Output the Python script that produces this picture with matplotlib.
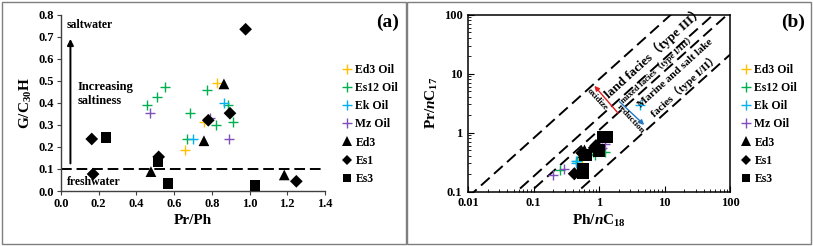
import numpy as np
import matplotlib
matplotlib.use("Agg")
import matplotlib.pyplot as plt
from matplotlib.patches import Rectangle
from matplotlib.lines import Line2D
from matplotlib.ticker import FixedLocator, FixedFormatter, LogLocator, NullFormatter

plt.rcParams['font.family'] = ['Liberation Serif', 'Noto Sans CJK SC']
plt.rcParams['font.weight'] = 'bold'
plt.rcParams['axes.labelweight'] = 'bold'
plt.rcParams['mathtext.fontset'] = 'custom'
plt.rcParams['mathtext.rm'] = 'Liberation Serif:bold'
plt.rcParams['mathtext.it'] = 'Liberation Serif:italic:bold'
plt.rcParams['mathtext.bf'] = 'Liberation Serif:bold'

# ---------------- data: panel (a) Pr/Ph vs G/C30H ----------------
ed3_oil_a_x = [0.76, 0.825, 0.66]
ed3_oil_a_y = [0.315, 0.488, 0.188]
es12_oil_a_x = [0.454, 0.511, 0.551, 0.774, 0.684, 0.670, 0.824, 0.887, 0.912]
es12_oil_a_y = [0.390, 0.428, 0.471, 0.458, 0.353, 0.236, 0.301, 0.388, 0.315]
ek_oil_a_x = [0.702, 0.865]
ek_oil_a_y = [0.238, 0.398]
mz_oil_a_x = [0.472, 0.788, 0.890]
mz_oil_a_y = [0.355, 0.330, 0.236]
ed3_a_x = [0.864, 0.758, 0.477, 1.184]
ed3_a_y = [0.486, 0.228, 0.088, 0.073]
es1_a_x = [0.979, 0.163, 0.170, 0.781, 0.896, 1.248, 0.518]
es1_a_y = [0.734, 0.236, 0.077, 0.321, 0.353, 0.044, 0.155]
es3_a_x = [0.239, 0.516, 0.569, 1.029]
es3_a_y = [0.243, 0.132, 0.034, 0.025]
freshwater_limit = 0.1

# ---------------- data: panel (b) Ph/nC18 vs Pr/nC17 ----------------
ed3_oil_b_x = [0.55, 0.62, 0.90]
ed3_oil_b_y = [0.36, 0.42, 0.50]
es12_oil_b_x = [0.25, 0.46, 0.70, 0.88, 1.25, 0.60, 0.80]
es12_oil_b_y = [0.23, 0.33, 0.43, 0.42, 0.46, 0.45, 0.47]
ek_oil_b_x = [0.44, 0.45, 4.3]
ek_oil_b_y = [0.31, 0.33, 2.9]
mz_oil_b_x = [0.20, 0.29, 1.22, 1.10]
mz_oil_b_y = [0.19, 0.24, 0.64, 0.55]
ed3_b_x = [0.58, 0.60, 1.10]
ed3_b_y = [0.46, 0.50, 0.85]
es1_b_x = [0.42, 0.85, 0.90, 1.00, 0.55]
es1_b_y = [0.20, 0.55, 0.60, 0.52, 0.45]
es3_b_x = [0.57, 0.57, 0.62, 1.00, 1.15, 1.30]
es3_b_y = [0.21, 0.24, 0.42, 0.50, 0.85, 0.85]
facies_boundaries_k = [8.0, 1.8, 1.1, 0.21]   # Pr/nC17 = k * Ph/nC18

labels = ['Ed3 Oil', 'Es12 Oil', 'Ek Oil', 'Mz Oil', 'Ed3', 'Es1', 'Es3']
c_orange = '#FFC000'
c_green = '#00B050'
c_blue = '#00B0F0'
c_purple = '#8050B8'

W, H = 813, 246
fig = plt.figure(figsize=(W / 100, H / 100), dpi=100)

# panel frames
for x0, x1 in [(2, 406), (407, 811)]:
    fig.add_artist(Rectangle((x0 / W, 2 / H), (x1 - x0) / W, (H - 4) / H,
                             transform=fig.transFigure, fill=False,
                             edgecolor='#7f7f7f', lw=1.0))


def scatter_all(ax, sets, sizes):
    styles = [('+', c_orange), ('+', c_green), ('+', c_blue), ('+', c_purple),
              ('^', 'black'), ('D', 'black'), ('s', 'black')]
    for (xs, ys), (m, c), s, lab in zip(sets, styles, sizes, labels):
        if m == '+':
            ax.scatter(xs, ys, marker='+', s=s, color=c, linewidths=1.0, label=lab, zorder=3)
        else:
            ax.scatter(xs, ys, marker=m, s=s, color=c, edgecolors='none', label=lab, zorder=3)


def add_legend(ax, x_px, y_px):
    hs = [Line2D([], [], marker='+', ls='none', color=c, markersize=7, mew=1.0)
          for c in (c_orange, c_green, c_blue, c_purple)]
    hs += [Line2D([], [], marker=m, ls='none', color='black', markersize=ms, mew=0)
           for m, ms in (('^', 6.5), ('D', 5), ('s', 6))]
    ax.legend(hs, labels, loc='upper left', bbox_to_anchor=(x_px / W, 1 - y_px / H),
              bbox_transform=fig.transFigure, frameon=False, fontsize=8.5,
              handlelength=0.7, handletextpad=0.35, labelspacing=0.52,
              borderpad=0, borderaxespad=0)


# ---------------- panel (a) ----------------
ax1 = fig.add_axes([61 / W, 1 - 191 / H, 264 / W, 176.3 / H])
ax1.set_xlim(0, 1.4)
ax1.set_ylim(0, 0.8)
for sp in ('top', 'right'):
    ax1.spines[sp].set_visible(False)
for sp in ('left', 'bottom'):
    ax1.spines[sp].set_color('#404040')
    ax1.spines[sp].set_linewidth(1.0)
ax1.set_xticks(np.arange(0, 1.41, 0.2))
ax1.set_yticks(np.arange(0, 0.81, 0.1))
ax1.set_xticklabels([f'{v:.1f}' for v in np.arange(0, 1.41, 0.2)])
ax1.set_yticklabels([f'{v:.1f}' for v in np.arange(0, 0.81, 0.1)])
ax1.tick_params(direction='out', length=3, width=0.8, color='#404040',
                labelsize=9, pad=2)
ax1.set_xlabel('Pr/Ph', fontsize=11, labelpad=3)
ax1.set_ylabel('G/C$_{30}$H', fontsize=11, labelpad=3)

scatter_all(ax1,
            [(ed3_oil_a_x, ed3_oil_a_y), (es12_oil_a_x, es12_oil_a_y),
             (ek_oil_a_x, ek_oil_a_y), (mz_oil_a_x, mz_oil_a_y),
             (ed3_a_x, ed3_a_y), (es1_a_x, es1_a_y), (es3_a_x, es3_a_y)],
            [55, 55, 55, 55, 60, 42, 55])

ax1.plot([0, 1.4], [freshwater_limit, freshwater_limit], color='black', lw=1.4,
         dashes=(5.5, 2.5), zorder=2)
ax1.annotate('', xy=(0.05, 0.69), xytext=(0.05, 0.125),
             arrowprops=dict(arrowstyle='-|>', color='black', lw=1.4,
                             mutation_scale=9, shrinkA=0, shrinkB=0))
ax1.text(0.03, 0.755, 'saltwater', fontsize=8.5, ha='left', va='center')
ax1.text(0.09, 0.44, 'Increasing\nsaltiness', fontsize=9, ha='left', va='center',
         linespacing=1.3)
ax1.text(0.03, 0.042, 'freshwater', fontsize=8.5, ha='left', va='center')
fig.text(388 / W, 1 - 22 / H, '(a)', fontsize=14, ha='center', va='center')
add_legend(ax1, 343, 64)

# ---------------- panel (b) ----------------
ax2 = fig.add_axes([468 / W, 1 - 191.5 / H, 262 / W, 176.8 / H])
ax2.set_xscale('log')
ax2.set_yscale('log')
ax2.set_xlim(0.01, 100)
ax2.set_ylim(0.1, 100)
for sp in ax2.spines.values():
    sp.set_color('black')
    sp.set_linewidth(1.1)
ax2.xaxis.set_major_locator(FixedLocator([0.01, 0.1, 1, 10, 100]))
ax2.xaxis.set_major_formatter(FixedFormatter(['0.01', '0.1', '1', '10', '100']))
ax2.yaxis.set_major_locator(FixedLocator([0.1, 1, 10, 100]))
ax2.yaxis.set_major_formatter(FixedFormatter(['0.1', '1', '10', '100']))
for axis in (ax2.xaxis, ax2.yaxis):
    axis.set_minor_locator(LogLocator(base=10, subs=np.arange(2, 10), numticks=20))
    axis.set_minor_formatter(NullFormatter())
ax2.tick_params(which='major', direction='in', length=4, width=0.8, labelsize=9, pad=4)
ax2.tick_params(which='minor', direction='in', length=2.5, width=0.6)
ax2.set_xlabel('Ph/$n$C$_{18}$', fontsize=11, labelpad=3)
ax2.set_ylabel('Pr/$n$C$_{17}$', fontsize=11, labelpad=3)

xx = np.array([0.01, 100.0])
for k in facies_boundaries_k:
    ax2.plot(xx, k * xx, color='black', lw=1.4, dashes=(6, 3), zorder=2)

scatter_all(ax2,
            [(ed3_oil_b_x, ed3_oil_b_y), (es12_oil_b_x, es12_oil_b_y),
             (ek_oil_b_x, ek_oil_b_y), (mz_oil_b_x, mz_oil_b_y),
             (ed3_b_x, ed3_b_y), (es1_b_x, es1_b_y), (es3_b_x, es3_b_y)],
            [60, 60, 60, 60, 70, 45, 80])

ang = np.degrees(np.arctan((59.0 / 65.0)))
ax2.text(7.0, 23.0, 'land facies（type III）', fontsize=9.5, rotation=ang,
         rotation_mode='anchor', ha='center', va='center')
ax2.text(8.0, 12.3, 'mixed facies（type I/III）', fontsize=6.3, rotation=ang,
         rotation_mode='anchor', ha='center', va='center')
ax2.text(14.5, 10.0, 'Marine and salt lake', fontsize=8, rotation=ang,
         rotation_mode='anchor', ha='center', va='center')
ax2.text(20.0, 6.3, 'facies（type I/II）', fontsize=8, rotation=ang,
         rotation_mode='anchor', ha='center', va='center')
ax2.annotate('', xy=(0.85, 6.2), xytext=(1.96, 2.13),
             arrowprops=dict(arrowstyle='-|>', color='#E02020', lw=1.0,
                             mutation_scale=7, shrinkA=0, shrinkB=0))
ax2.annotate('', xy=(4.9, 1.35), xytext=(2.05, 3.35),
             arrowprops=dict(arrowstyle='-|>', color='#1F78C8', lw=1.0,
                             mutation_scale=7, shrinkA=0, shrinkB=0))
ax2.text(0.93, 3.7, 'oxidize', fontsize=6.5, rotation=-ang - 5,
         rotation_mode='anchor', ha='center', va='center')
ax2.text(3.0, 1.7, 'reduction', fontsize=6.5, rotation=-ang - 5,
         rotation_mode='anchor', ha='center', va='center')
fig.text(793 / W, 1 - 22 / H, '(b)', fontsize=14, ha='center', va='center')
add_legend(ax2, 742, 64)

fig.savefig('out.png', dpi=100)
